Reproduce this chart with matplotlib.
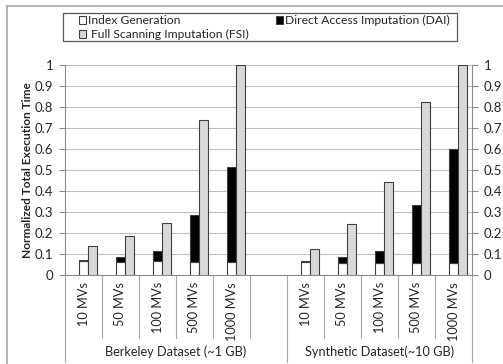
import matplotlib
matplotlib.use("Agg")
import matplotlib.pyplot as plt
from matplotlib.patches import Rectangle
from matplotlib.lines import Line2D
import numpy as np

plt.rcParams["font.family"] = ["Lato", "DejaVu Sans"]

categories = ["10 MVs", "50 MVs", "100 MVs", "500 MVs", "1000 MVs"]
groups = ["Berkeley Dataset (~1 GB)", "Synthetic Dataset(~10 GB)"]

berkeley_index = [0.065, 0.060, 0.063, 0.059, 0.059]
berkeley_dai = [0.005, 0.023, 0.048, 0.223, 0.454]
berkeley_fsi = [0.134, 0.183, 0.248, 0.736, 1.0]

synthetic_index = [0.058, 0.055, 0.055, 0.055, 0.055]
synthetic_dai = [0.005, 0.029, 0.055, 0.278, 0.545]
synthetic_fsi = [0.124, 0.239, 0.441, 0.823, 1.0]

yticks = [0, 0.1, 0.2, 0.3, 0.4, 0.5, 0.6, 0.7, 0.8, 0.9, 1]
ytick_labels = ["0", "0.1", "0.2", "0.3", "0.4", "0.5", "0.6", "0.7", "0.8", "0.9", "1"]

W, H = 503, 364
fig = plt.figure(figsize=(W / 100, H / 100), dpi=100)

def fx(px):
    return px / W

def fy(py):
    return 1 - py / H

ax_left, ax_right, ax_top, ax_bottom = 65, 472, 65, 274.5
ax = fig.add_axes([fx(ax_left), fy(ax_bottom), (ax_right - ax_left) / W, (ax_bottom - ax_top) / H])

WHITE, BLACK, GRAY = "#ffffff", "#000000", "#d9d9d9"
EDGE = "#404040"
GRID = "#bfbfbf"
AXIS = "#8c8c8c"
TEXT = "#262626"

# slot positions: five Berkeley, one empty spacer, five Synthetic
x_b = np.arange(5)
x_s = np.arange(5) + 6
bw = 0.235

index_vals = np.array(berkeley_index + synthetic_index)
dai_vals = np.array(berkeley_dai + synthetic_dai)
fsi_vals = np.array(berkeley_fsi + synthetic_fsi)
xs = np.concatenate([x_b, x_s])

ax.bar(xs, index_vals, width=bw, color=WHITE, edgecolor=EDGE, linewidth=0.8, zorder=3)
ax.bar(xs, dai_vals, width=bw, bottom=index_vals, color=BLACK, edgecolor=EDGE, linewidth=0.8, zorder=3)
ax.bar(xs + bw, fsi_vals, width=bw, color=GRAY, edgecolor=EDGE, linewidth=0.8, zorder=3)

ax.set_xlim(-0.5, 10.5)
ax.set_ylim(0, 1)
ax.set_yticks(yticks)
ax.set_yticklabels(ytick_labels)
ax.yaxis.grid(True, color=GRID, linewidth=0.8, zorder=0)
ax.set_axisbelow(True)
ax.tick_params(axis="y", which="both", left=True, right=True, labelleft=True, labelright=True,
               length=4.5, width=0.8, color=AXIS, pad=4, labelsize=9.5, labelcolor=TEXT)
ax.set_xticks([])
ax.spines["top"].set_visible(False)
for side in ["left", "right", "bottom"]:
    ax.spines[side].set_color(AXIS)
    ax.spines[side].set_linewidth(0.8)

fig.text(fx(28), fy((ax_top + ax_bottom) / 2), "Normalized Total Execution Time", rotation=90,
         ha="center", va="center", fontsize=8.6, fontweight="bold", color=TEXT)

# category dividers and labels below the axis
trans = ax.get_xaxis_transform()
def yax(py):
    return (ax_bottom - py) / (ax_bottom - ax_top)

for b in np.arange(-0.5, 11, 1.0):
    full = b in (-0.5, 5.5, 10.5)
    end = 362 if full else 338
    ax.add_line(Line2D([b, b], [0, yax(end)], transform=trans, color="#a6a6a6",
                       linewidth=0.8, clip_on=False))

for xp, lab in zip(list(x_b) + list(x_s), categories + categories):
    ax.text(xp, yax(282), lab, transform=trans, rotation=90, ha="center", va="top",
            fontsize=9.2, color=TEXT)

ax.text(2.5, yax(352), groups[0], transform=trans, ha="center", va="center", fontsize=9.2, color=TEXT)
ax.text(8.0, yax(352), groups[1], transform=trans, ha="center", va="center", fontsize=9.2, color=TEXT)

# chart frame (top and left edges)
fig.add_artist(Line2D([fx(7), fx(7)], [fy(6), 0], color="#a6a6a6", linewidth=1.2))
fig.add_artist(Line2D([fx(7), 1], [fy(6), fy(6)], color="#a6a6a6", linewidth=1.2))

# legend box
fig.add_artist(Rectangle((fx(63), fy(41)), (457 - 63) / W, 28 / H, transform=fig.transFigure,
                         facecolor="white", edgecolor="#595959", linewidth=0.9))
legend_items = [
    ("Index Generation", WHITE, 79, 20, 88),
    ("Direct Access Imputation (DAI)", BLACK, 276, 20, 285),
    ("Full Scanning Imputation (FSI)", GRAY, 79, 34, 91),
]
sq = 7
for label, col, mx, my, tx in legend_items:
    fig.add_artist(Rectangle((fx(mx), fy(my + sq / 2)), sq / W, sq / H, transform=fig.transFigure,
                             facecolor=col, edgecolor=EDGE, linewidth=0.8))
    fig.text(fx(tx), fy(my), label, ha="left", va="center", fontsize=8.7, color=TEXT)

fig.savefig("out.png", dpi=100)
